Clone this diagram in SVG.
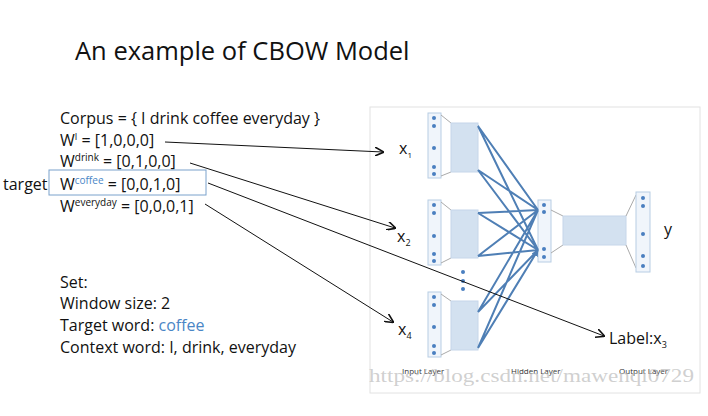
<svg xmlns="http://www.w3.org/2000/svg" width="708" height="416" viewBox="0 0 708 416">
<defs>
<style>
text{font-family:"Open Sans","Liberation Sans",sans-serif;fill:#111}
.t{font-size:16px}
.col{fill:#f0f5fb;stroke:#b8cde4;stroke-width:1}
.box{fill:#d3e1f0;stroke:#c6d6ea}
.dot{fill:#4a7fc0}
.bl{stroke:#4f7fb5;stroke-width:2;fill:none}
.k{stroke:#111;stroke-width:1;fill:none;marker-end:url(#a)}
.sm{font-size:8px;fill:#333}
</style>
<marker id="a" viewBox="0 0 10 10" refX="9" refY="5" markerWidth="9" markerHeight="9" orient="auto" markerUnits="userSpaceOnUse"><path d="M0,0L10,5L0,10" fill="none" stroke="#111" stroke-width="1.8"/></marker>
<marker id="b" viewBox="0 0 10 10" refX="9" refY="5" markerWidth="7" markerHeight="7" orient="auto" markerUnits="userSpaceOnUse"><path d="M0,0L10,5L0,10z" fill="#4f7fb5"/></marker>
</defs>
<rect width="708" height="416" fill="#fff"/>
<text x="75" y="60" style="font-size:25.5px">An example of CBOW Model</text>
<rect x="370" y="107" width="330" height="286" fill="#fff" stroke="#e2e2e2"/>
<g id="words">
<text x="60" y="124" class="t">Corpus = { I drink coffee everyday }</text>
<text x="60" y="146" class="t">W<tspan dy="-6" style="font-size:9px">I</tspan><tspan dy="6"> = [1,0,0,0]</tspan></text>
<text x="60" y="167" class="t">W<tspan dy="-6" style="font-size:10px">drink</tspan><tspan dy="6"> = [0,1,0,0]</tspan></text>
<text x="3" y="190" class="t">target</text>
<rect x="49" y="170" width="157" height="25" fill="none" stroke="#7aa2cc"/>
<text x="60" y="190" class="t">W<tspan dy="-6" style="font-size:10px;fill:#4a86c6">coffee</tspan><tspan dy="6"> = [0,0,1,0]</tspan></text>
<text x="60" y="212" class="t">W<tspan dy="-6" style="font-size:10px">everyday</tspan><tspan dy="6"> = [0,0,0,1]</tspan></text>
</g>
<g id="settings">
<text x="60" y="288" class="t">Set:</text>
<text x="60" y="309" class="t">Window size: 2</text>
<text x="60" y="331" class="t">Target word: <tspan style="fill:#4a86c6">coffee</tspan></text>
<text x="60" y="353" class="t">Context word: I, drink, everyday</text>
</g>
<g id="in1">
<rect x="428" y="113" width="13" height="65" class="col"/>
<circle cx="434" cy="118" r="2" class="dot"/><circle cx="434" cy="126" r="2" class="dot"/><circle cx="434" cy="148" r="2" class="dot"/><circle cx="434" cy="167" r="2" class="dot"/><circle cx="434" cy="174" r="2" class="dot"/>
<path d="M441 115L451 123M441 176L451 172" stroke="#aaa"/>
<rect x="451" y="123" width="27" height="49" class="box"/>
</g>
<g id="in2">
<rect x="428" y="200" width="13" height="65" class="col"/>
<circle cx="434" cy="205" r="2" class="dot"/><circle cx="434" cy="213" r="2" class="dot"/><circle cx="434" cy="236" r="2" class="dot"/><circle cx="434" cy="254" r="2" class="dot"/><circle cx="434" cy="261" r="2" class="dot"/>
<path d="M441 202L451 210M441 263L451 258" stroke="#aaa"/>
<rect x="451" y="210" width="27" height="48" class="box"/>
</g>
<g id="dots"><circle cx="463" cy="272" r="2" class="dot"/><circle cx="463" cy="281" r="2" class="dot"/><circle cx="463" cy="289" r="2" class="dot"/></g>
<g id="in4">
<rect x="428" y="292" width="13" height="65" class="col"/>
<circle cx="434" cy="297" r="2" class="dot"/><circle cx="434" cy="305" r="2" class="dot"/><circle cx="434" cy="327" r="2" class="dot"/><circle cx="434" cy="346" r="2" class="dot"/><circle cx="434" cy="353" r="2" class="dot"/>
<path d="M441 294L451 301M441 355L451 350" stroke="#aaa"/>
<rect x="451" y="301" width="27" height="49" class="box"/>
</g>
<g id="hidden">
<rect x="538" y="200" width="13" height="62" class="col"/>
<circle cx="544" cy="205" r="2" class="dot"/><circle cx="544" cy="212" r="2" class="dot"/><circle cx="544" cy="249" r="2" class="dot"/><circle cx="544" cy="257" r="2" class="dot"/>
<path d="M551 210L563 216M551 253L563 245" stroke="#aaa"/>
<rect x="563" y="216" width="63" height="29" class="box"/>
</g>
<g id="out">
<path d="M626 216L636 195M626 245L636 268" stroke="#aaa"/>
<rect x="636" y="192" width="14" height="80" class="col"/>
<circle cx="643" cy="198" r="2" class="dot"/><circle cx="643" cy="206" r="2" class="dot"/><circle cx="643" cy="234" r="2" class="dot"/><circle cx="643" cy="256" r="2" class="dot"/><circle cx="643" cy="266" r="2" class="dot"/>
</g>
<g id="connectors">
<path class="bl" marker-end="url(#b)" d="M478 126L538 210M478 126L538 250M478 170L538 210M478 170L538 250M478 213L538 210M478 213L538 250M478 256L538 210M478 256L538 250M478 312L538 210M478 312L538 250M478 348L538 210M478 348L538 250"/>
<path class="k" d="M165 142L383 152"/>
<path class="k" d="M190 163L395 228"/>
<path class="k" d="M208 183L604 336"/>
<path class="k" d="M205 204L393 322"/>
</g>
<g id="labels">
<text x="399" y="154" class="t">x<tspan dy="4" style="font-size:8px">1</tspan></text>
<text x="397" y="242" class="t">x<tspan dy="4" style="font-size:9px">2</tspan></text>
<text x="398" y="335" class="t">x<tspan dy="4" style="font-size:9px">4</tspan></text>
<text x="664" y="235" class="t">y</text>
<text x="609" y="344" class="t">Label:x<tspan dy="4" style="font-size:9px">3</tspan></text>
<text x="402" y="374" class="sm">Input Layer</text>
<text x="511" y="374" class="sm">Hidden Layer</text>
<text x="619" y="374" class="sm">Output Layer</text>
<text x="369" y="382" textLength="325" lengthAdjust="spacingAndGlyphs" style="font-family:'Liberation Serif',serif;font-size:18px;fill:#bbb;fill-opacity:0.7">https://blog.csdn.net/mawenqi0729</text>
</g>
</svg>
